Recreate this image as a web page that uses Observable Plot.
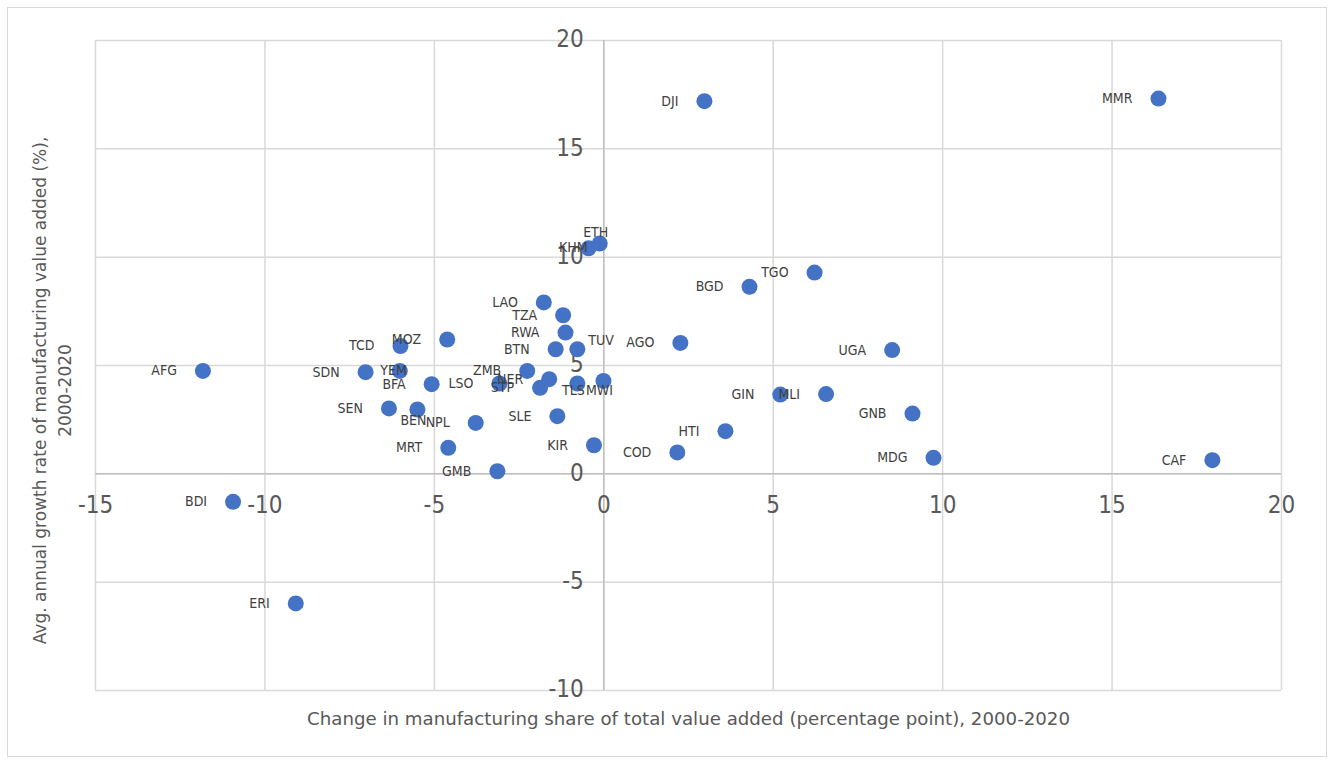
<!DOCTYPE html>
<html>
<head>
<meta charset="utf-8">
<script src="https://cdn.jsdelivr.net/npm/d3@7"></script>
<script src="https://cdn.jsdelivr.net/npm/@observablehq/plot@0.6"></script>
<style>
  html, body { margin: 0; padding: 0; background: #fff; }
  #wrap { position: relative; width: 1334px; height: 764px; }
  #border { position: absolute; left: 7px; top: 7px; width: 1318px; height: 748px; border: 1px solid #d9d9d9; pointer-events: none; }
  svg { display: block; }
</style>
</head>
<body>
<div id="wrap"><div id="border"></div></div>
<script>
const codes = ["AFG","BDI","ERI","SDN","TCD","YEM","SEN","BEN","BFA","MOZ","MRT","NPL","GMB","LSO","ZMB","STP","LAO","NER","BTN","SLE","TZA","RWA","TUV","TLS","KHM","KIR","ETH","MWI","COD","AGO","DJI","HTI","BGD","GIN","TGO","MLI","UGA","GNB","MDG","MMR","CAF"];
const shareChange = [-11.83,-10.94,-9.09,-7.03,-6.00,-6.02,-6.34,-5.50,-5.08,-4.62,-4.59,-3.78,-3.14,-3.08,-2.26,-1.88,-1.77,-1.61,-1.42,-1.37,-1.20,-1.13,-0.78,-0.78,-0.45,-0.29,-0.12,-0.01,2.17,2.26,2.97,3.59,4.30,5.21,6.22,6.56,8.51,9.11,9.73,16.37,17.96];
const growth = [4.75,-1.29,-5.98,4.69,5.90,4.75,3.02,2.97,4.14,6.20,1.20,2.35,0.12,4.17,4.75,3.97,7.91,4.37,5.75,2.66,7.32,6.52,5.75,4.17,10.41,1.32,10.63,4.29,0.99,6.04,17.20,1.97,8.63,3.66,9.29,3.68,5.71,2.78,0.74,17.32,0.63];
const xTicks = [-15,-10,-5,0,5,10,15,20];
const yTicks = [-10,-5,0,5,10,15,20];
const xTitle = "Change in manufacturing share of total value added (percentage point), 2000-2020";
const yTitle = "Avg. annual growth rate of manufacturing value added (%),\n2000-2020";

const data = codes.map((c, i) => ({code: c, x: shareChange[i], y: growth[i]}));

// label placement styles (relative pixel offsets)
const labelStyles = {
  ETH: {textAnchor: "middle", dx: -4, dy: -11},
  KHM: {textAnchor: "end", dx: -1, dy: -1},
  YEM: {textAnchor: "end", dx: 7, dy: 0},
  TLS: {textAnchor: "middle", dx: -4, dy: 7},
  MWI: {textAnchor: "middle", dx: -4, dy: 10},
  BEN: {textAnchor: "end", dx: 9, dy: 11},
  TUV: {textAnchor: "start", dx: 11, dy: -9}
};
const defaultLabel = {textAnchor: "end", dx: -26, dy: 0};

const FONT = "DejaVu Sans, sans-serif";
const LFONT = "DejaVu Sans Condensed, DejaVu Sans, sans-serif";
const labelMarks = [
  Plot.text(data.filter(d => !labelStyles[d.code]), {x: "x", y: "y", text: "code", ...defaultLabel, fontSize: 14, fontFamily: LFONT, fill: "#404040"}),
  ...Object.entries(labelStyles).map(([k, s]) =>
    Plot.text(data.filter(d => d.code === k), {x: "x", y: "y", text: "code", ...s, fontSize: 14, fontFamily: LFONT, fill: "#404040"}))
];

const chart = Plot.plot({
  width: 1334,
  height: 764,
  marginLeft: 95,
  marginRight: 53,
  marginTop: 40,
  marginBottom: 74,
  x: {domain: [-15, 20], axis: null},
  y: {domain: [-10, 20], axis: null},
  style: {fontFamily: FONT, background: "transparent"},
  marks: [
    Plot.ruleX(xTicks, {stroke: "#d9d9d9", strokeWidth: 1.5}),
    Plot.ruleY(yTicks, {stroke: "#d9d9d9", strokeWidth: 1.5}),
    Plot.ruleX([0], {stroke: "#bfbfbf", strokeWidth: 1.5}),
    Plot.ruleY([0], {stroke: "#bfbfbf", strokeWidth: 1.5}),
    Plot.text(xTicks, {x: d => d, y: () => 0, text: d => String(d), dy: 31, fontSize: 24, fontFamily: LFONT, fill: "#595959"}),
    Plot.text(yTicks, {x: () => 0, y: d => d, text: d => String(d), textAnchor: "end", dx: -20, dy: -1, fontSize: 24, fontFamily: LFONT, fill: "#595959"}),
    Plot.dot(data, {x: "x", y: "y", r: 8, fill: "#4472C4", stroke: null}),
    ...labelMarks,
    Plot.text([xTitle], {frameAnchor: "bottom", dy: 34, fontSize: 18.2, fill: "#595959"}),
    Plot.text([yTitle], {frameAnchor: "left", textAnchor: "middle", lineAnchor: "middle", dx: -45, dy: 25, rotate: -90, fontSize: 17, fill: "#595959", lineHeight: 1.5})
  ]
});
document.getElementById("wrap").prepend(chart);
</script>
</body>
</html>
